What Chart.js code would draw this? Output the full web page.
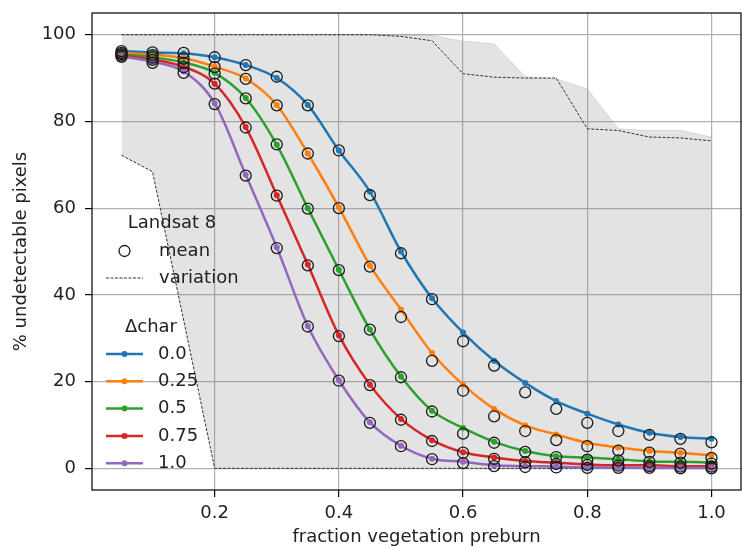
<!DOCTYPE html>
<html>
<head>
<meta charset="utf-8">
<script src="https://cdn.jsdelivr.net/npm/chart.js@4.4.1/dist/chart.umd.min.js"></script>
<style>
  body { margin: 0; background: #fff; }
  canvas { display: block; }
</style>
</head>
<body>
<canvas id="chart" width="742" height="548"></canvas>
<script>
// x: fraction vegetation preburn
const fracVeg = [0.05, 0.1, 0.15, 0.2, 0.25, 0.3, 0.35, 0.4, 0.45, 0.5,
                 0.55, 0.6, 0.65, 0.7, 0.75, 0.8, 0.85, 0.9, 0.95, 1.0];

// model curves per delta char
const model00  = [96.2, 95.9, 95.7, 94.8, 93.0, 90.0, 83.8, 73.3, 63.8, 50.0, 39.2, 31.3, 24.8, 19.7, 15.5, 12.6, 10.1, 8.2, 7.2, 6.8];
const model025 = [95.8, 95.4, 94.6, 92.6, 89.9, 83.8, 72.6, 60.2, 46.8, 36.6, 26.6, 19.3, 13.7, 9.9, 7.8, 5.9, 4.8, 4.0, 3.6, 3.0];
const model05  = [95.5, 94.8, 93.6, 91.2, 85.4, 74.6, 60.0, 45.8, 32.0, 21.2, 13.3, 9.3, 6.1, 4.0, 2.8, 2.5, 2.1, 1.6, 1.5, 1.3];
const model075 = [95.2, 94.3, 92.6, 88.7, 78.7, 63.0, 47.0, 30.7, 19.3, 11.4, 6.5, 3.7, 2.5, 1.7, 1.3, 0.9, 0.7, 0.7, 0.5, 0.5];
const model10  = [95.0, 93.8, 91.5, 84.2, 67.7, 51.0, 32.8, 20.3, 10.6, 5.2, 2.2, 1.5, 0.7, 0.5, 0.4, 0.2, 0.2, 0.1, 0.1, 0.1];

// Landsat 8 means
const mean00  = [96.2, 95.9, 95.8, 94.8, 93.0, 90.3, 83.7, 73.3, 63.0, 49.6, 39.0, 29.3, 23.7, 17.5, 13.7, 10.5, 8.6, 7.7, 6.8, 6.0];
const mean025 = [95.8, 95.3, 94.5, 92.5, 89.8, 83.7, 72.6, 60.0, 46.5, 34.9, 24.8, 17.9, 12.0, 8.6, 6.5, 5.1, 4.1, 3.6, 3.4, 2.4];
const mean05  = [95.5, 94.7, 93.5, 91.0, 85.3, 74.7, 59.9, 45.7, 32.0, 21.0, 13.1, 8.0, 5.9, 3.8, 2.6, 2.0, 1.8, 1.5, 1.3, 1.1];
const mean075 = [95.2, 94.2, 92.5, 88.7, 78.6, 62.9, 46.8, 30.5, 19.2, 11.2, 6.3, 3.6, 2.2, 1.4, 1.0, 0.8, 0.6, 0.5, 0.4, 0.4];
const mean10  = [94.9, 93.5, 91.2, 84.0, 67.5, 50.8, 32.7, 20.2, 10.5, 5.1, 2.1, 1.2, 0.5, 0.3, 0.2, 0.1, 0.1, 0.1, 0.0, 0.0];

// variation
const varUpper = [100, 100, 100, 100, 100, 100, 100, 100, 100, 99.6, 98.6, 91.0, 90.2, 90.0, 90.0, 78.3, 77.9, 76.4, 76.2, 75.5];
const varLower = [72.2, 68.4, 34.2, 0, 0, 0, 0, 0, 0, 0, 0, 0, 0, 0, 0, 0, 0, 0, 0, 0];
const bandTop  = [100, 100, 100, 100, 100, 100, 100, 100, 100, 100, 99.8, 98.5, 97.9, 90.3, 89.8, 87.5, 78.3, 77.9, 77.9, 76.4];

const charLabels = ['0.0', '0.25', '0.5', '0.75', '1.0'];
const xTicks = [0.2, 0.4, 0.6, 0.8, 1.0];
const yTicks = [0, 20, 40, 60, 80, 100];

const lineColors = ['#1f77b4', '#ff7f0e', '#2ca02c', '#d62728', '#9467bd'];
const modelSeries = [model00, model025, model05, model075, model10];
const meanSeries = [mean00, mean025, mean05, mean075, mean10];

const pts = ys => fracVeg.map((x, i) => ({x: x, y: ys[i]}));

Chart.defaults.font.family = '"DejaVu Sans", sans-serif';
Chart.defaults.font.size = 18;
Chart.defaults.color = '#222';

let datasets = [
  {
    data: pts(bandTop), showLine: true, fill: '+1', order: 100,
    backgroundColor: 'rgba(128,128,128,0.22)', borderColor: 'rgba(128,128,128,0.22)',
    borderWidth: 1, pointRadius: 0, tension: 0
  },
  {
    data: pts(varLower), showLine: true, fill: false, order: 99,
    borderWidth: 0, pointRadius: 0, tension: 0
  },
  {
    data: pts(varUpper), showLine: true, fill: false, order: 90,
    borderColor: '#333', borderWidth: 1, borderDash: [3, 1.5], pointRadius: 0, tension: 0
  },
  {
    data: pts(varLower), showLine: true, fill: false, order: 89,
    borderColor: '#333', borderWidth: 1, borderDash: [3, 1.5], pointRadius: 0, tension: 0
  }
];

modelSeries.forEach((s, i) => {
  datasets.push({
    data: pts(s), showLine: true, fill: false, order: 50 - i,
    borderColor: lineColors[i], backgroundColor: lineColors[i],
    borderWidth: 2.5, pointRadius: 3, pointBorderWidth: 0,
    tension: 0.4, cubicInterpolationMode: 'monotone'
  });
});

meanSeries.forEach((s, i) => {
  datasets.push({
    data: pts(s), showLine: false, order: 10 - i,
    pointRadius: 5.5, pointBorderWidth: 1.3,
    pointBorderColor: '#1a1a1a', pointBackgroundColor: 'rgba(0,0,0,0)'
  });
});

// 축 여백 자동추가 끄기
function noPad(s) {
  s.paddingTop = 0; s.paddingBottom = 0; s.paddingLeft = 0; s.paddingRight = 0;
}

// 범례 두개 + 테두리
const legendPlugin = {
  id: 'twoLegends',
  afterDraw(chart) {
    const {ctx, chartArea: a} = chart;
    ctx.save();
    ctx.font = '18px "DejaVu Sans"';
    ctx.fillStyle = '#222';
    ctx.textBaseline = 'middle';

    // Landsat 8
    ctx.textAlign = 'center';
    ctx.fillText('Landsat 8', a.left + 80, a.top + 210);
    ctx.textAlign = 'left';
    ctx.beginPath();
    ctx.arc(a.left + 32.5, a.top + 238, 5.5, 0, Math.PI * 2);
    ctx.strokeStyle = '#1a1a1a';
    ctx.lineWidth = 1.3;
    ctx.stroke();
    ctx.fillText('mean', a.left + 67, a.top + 238);

    ctx.beginPath();
    ctx.setLineDash([3, 1.5]);
    ctx.strokeStyle = '#333';
    ctx.lineWidth = 1;
    ctx.moveTo(a.left + 14, a.top + 265);
    ctx.lineTo(a.left + 51, a.top + 265);
    ctx.stroke();
    ctx.setLineDash([]);
    ctx.fillText('variation', a.left + 67, a.top + 265);

    // delta char
    ctx.textAlign = 'center';
    ctx.fillText('\u0394char', a.left + 59, a.top + 314);
    ctx.textAlign = 'left';
    charLabels.forEach((lab, i) => {
      const y = a.top + 341 + i * 27.3;
      ctx.beginPath();
      ctx.strokeStyle = lineColors[i];
      ctx.lineWidth = 2.5;
      ctx.moveTo(a.left + 14, y);
      ctx.lineTo(a.left + 51, y);
      ctx.stroke();
      ctx.beginPath();
      ctx.fillStyle = lineColors[i];
      ctx.arc(a.left + 32.5, y, 3, 0, Math.PI * 2);
      ctx.fill();
      ctx.fillStyle = '#222';
      ctx.fillText(lab, a.left + 66, y);
    });

    // frame
    ctx.strokeStyle = '#000';
    ctx.lineWidth = 1.2;
    ctx.strokeRect(a.left, a.top, a.right - a.left, a.bottom - a.top);
    ctx.restore();
  }
};

new Chart(document.getElementById('chart'), {
  type: 'scatter',
  data: { datasets: datasets },
  options: {
    responsive: false,
    animation: false,
    layout: { autoPadding: false, padding: { left: 0, right: 1, top: 13, bottom: 0 } },
    scales: {
      x: {
        type: 'linear', min: 0.0025, max: 1.0475,
        afterBuildTicks: s => { s.ticks = xTicks.map(v => ({value: v})); },
        afterFit: s => { s.height = 58; noPad(s); },
        ticks: { padding: 6, color: '#222', callback: v => v.toFixed(1) },
        grid: { color: '#b0b0b0', lineWidth: 1.2, tickColor: '#000', tickWidth: 1.2, tickLength: 7 },
        border: { display: false },
        title: { display: true, text: 'fraction vegetation preburn', color: '#222', padding: { top: 0, bottom: 0 } }
      },
      y: {
        type: 'linear', min: -5, max: 105,
        afterBuildTicks: s => { s.ticks = yTicks.map(v => ({value: v})); },
        afterFit: s => { s.width = 92; noPad(s); },
        ticks: { padding: 9, color: '#222', callback: v => String(v) },
        grid: { color: '#b0b0b0', lineWidth: 1.2, tickColor: '#000', tickWidth: 1.2, tickLength: 7 },
        border: { display: false },
        title: { display: true, text: '% undetectable pixels', color: '#222', padding: { top: 11, bottom: 0 } }
      }
    },
    plugins: {
      legend: { display: false },
      tooltip: { enabled: false }
    }
  },
  plugins: [legendPlugin]
});
</script>
</body>
</html>
